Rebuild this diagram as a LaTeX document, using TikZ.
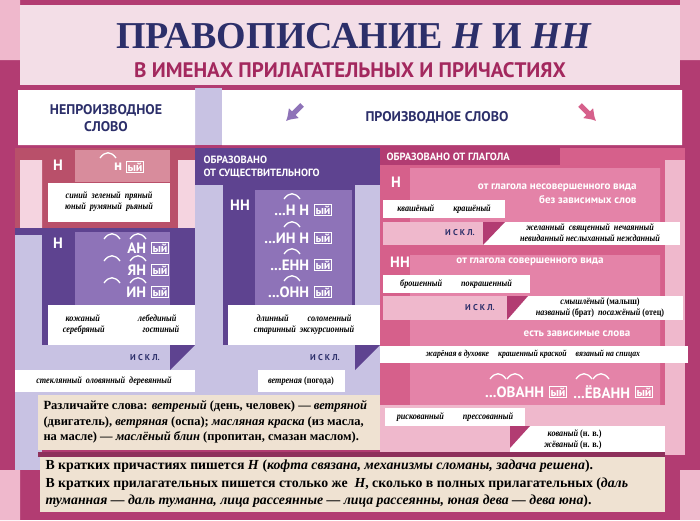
\documentclass[tikz,border=0pt]{standalone}
\usepackage{fontspec}
\usetikzlibrary{arrows.meta,positioning}
\setmainfont{Liberation Serif}
\setsansfont{PT Sans}
\newfontfamily\condserif[FakeStretch=0.86]{Liberation Serif}
\definecolor{frame}{HTML}{B23C72}
\definecolor{titlebg}{HTML}{F3DEE7}
\definecolor{navy}{HTML}{2C2F6A}
\definecolor{mag}{HTML}{A3285E}
\definecolor{redblk}{HTML}{B9506A}
\definecolor{redlt}{HTML}{D88C9C}
\definecolor{purpdk}{HTML}{5E4390}
\definecolor{purpmd}{HTML}{8E73B8}
\definecolor{lav}{HTML}{C8C2E3}
\definecolor{pink}{HTML}{D6608B}
\definecolor{pinklt}{HTML}{E483A8}
\definecolor{pinkpl}{HTML}{EFB8CC}
\definecolor{beige}{HTML}{EFE2D2}
\tikzset{
  hdr/.style={font=\sffamily\bfseries\fontsize{10.5}{13}\selectfont, text=white, align=left},
  big/.style={font=\sffamily\bfseries\fontsize{14}{17}\selectfont, text=navy, align=center},
  ex/.style={font=\condserif\bfseries\itshape\fontsize{9.5}{11}\selectfont, text=black, align=center},
  iskl/.style={font=\sffamily\bfseries\fontsize{8.5}{9}\selectfont, text=navy},
  suf/.style={font=\sffamily\bfseries\fontsize{15}{16}\selectfont, text=white},
  ending/.style={draw=white, line width=1.2pt, inner sep=1.2pt, font=\sffamily\bfseries\fontsize{12}{13}\selectfont, text=white},
  bignote/.style={font=\bfseries\fontsize{13.8}{17.5}\selectfont, align=left, anchor=west},
}
\newcommand{\arcover}[2]{\draw[white, line width=1.3pt] (#1-8,#2) .. controls (#1-3,#2-7) and (#1+3,#2-7) .. (#1+8,#2);}
\begin{document}
\begin{tikzpicture}[x=1pt,y=-1pt]
\useasboundingbox (0,0) rectangle (700,520);
\fill[frame] (0,0) rectangle (700,520);
\fill[pinkpl] (0,0) rectangle (20,60) (680,0) rectangle (700,60) (0,470) rectangle (20,520) (680,470) rectangle (700,520);
% title
\fill[titlebg] (20,5) rectangle (680,85);
\node (title) at (354,36) {\bfseries\fontsize{38}{40}\selectfont\color{navy}ПРАВОПИСАНИЕ \textit{Н} И \textit{НН}};
\node (subtitle) at (350,70) {\sffamily\bfseries\fontsize{21}{22}\selectfont\color{mag}В ИМЕНАХ ПРИЛАГАТЕЛЬНЫХ И ПРИЧАСТИЯХ};
% header row
\fill[lav] (195,88) rectangle (222,145);
\fill[white] (18,90) rectangle (195,145) (222,90) rectangle (682,145);
\node[big] (neproiz) at (106,118) {НЕПРОИЗВОДНОЕ\\СЛОВО};
\node[big] (proiz) at (437,117) {ПРОИЗВОДНОЕ СЛОВО};
\draw[purpmd, line width=5pt, -{Latex[length=11pt,width=15pt]}] (302,105) -- (286,121);
\draw[pink, line width=5pt, -{Latex[length=11pt,width=15pt]}] (580,105) -- (596,121);
% left column
\fill[redblk] (15,148) rectangle (195,228);
\fill[redlt] (75,150) rectangle (170,182);
\fill[pinkpl!60] (20,160) rectangle (42,228) (178,160) rectangle (195,228);
\node[suf] (nA) at (58,165) {Н};
\node[ending] (nyiA) at (135,167) {ый};
\node[suf, left=0pt of nyiA] {н};
\arcover{108}{158}
\fill[white] (48,183) rectangle (170,222);
\node[ex] (exA) at (109,202) {синий\ \ зеленый\ \ пряный\\юный\ \ румяный\ \ рьяный};
\fill[purpdk] (15,228) rectangle (195,345);
\fill[lav] (15,235) rectangle (42,470);
\fill[purpmd] (75,232) rectangle (170,305);
\node[suf] (nB) at (58,243) {Н};
\foreach \t/\y in {АН/248,ЯН/270,ИН/292}{
  \node[ending] (e\y) at (160,\y) {ый};
  \node[suf, left=1pt of e\y] {\t};
  \arcover{112}{\y-9}
  \arcover{138}{\y-9}
}
\fill[white] (48,305) rectangle (195,345);
\node[ex] (exB) at (121,325) {кожаный\qquad\qquad лебединый\\серебряный\qquad\qquad гостиный};
\fill[lav] (42,345) rectangle (195,395);
\fill[purpdk] (170,345) -- (195,345) -- (170,370) -- cycle;
\node[iskl] (isklA) at (145,358) {И С К Л.};
\fill[white] (15,370) rectangle (195,392);
\node[ex] (exC) at (104,381) {стеклянный\ \ оловянный\ \ деревянный};
% middle column
\fill[lav] (195,148) rectangle (380,395);
\fill[purpdk] (195,148) rectangle (380,185);
\node[hdr, anchor=west] (fromnoun) at (200,167) {ОБРАЗОВАНО\\ОТ СУЩЕСТВИТЕЛЬНОГО};
\fill[purpdk] (223,185) rectangle (355,345);
\fill[purpmd] (255,190) rectangle (352,305);
\node[suf] (nnB) at (240,205) {НН};
\foreach \t/\y in {{...Н Н}/210,{...ИН Н}/238,{...ЕНН}/265,{...ОНН}/292}{
  \node[ending] (m\y) at (323,\y) {ый};
  \node[suf, left=1pt of m\y] {\t};
  \arcover{292}{\y-11}
}
\fill[white] (228,305) rectangle (380,345);
\node[ex] (exD) at (304,325) {длинный\qquad соломенный\\старинный\ \ экскурсионный};
\fill[purpdk] (355,345) -- (380,345) -- (355,370) -- cycle;
\node[iskl] (isklB) at (325,358) {И С К Л.};
\fill[white] (258,370) rectangle (345,392);
\node[ex] (exE) at (301,381) {ветреная \textup{(погода)}};
% right column
\fill[pink] (380,148) rectangle (685,455);
\fill[frame] (380,148) rectangle (560,165);
\node[hdr, anchor=west] (fromverb) at (383,157) {ОБРАЗОВАНО ОТ ГЛАГОЛА};
\fill[pinklt] (410,168) rectangle (660,225) (410,255) rectangle (660,455);
\fill[pinkpl] (665,160) rectangle (685,455);
\node[suf] (nC) at (396,182) {Н};
\node[hdr, font=\sffamily\bfseries\fontsize{11}{14}\selectfont, align=right, anchor=east] (imperf) at (640,194) {от глагола несовершенного вида\\без зависимых слов};
\fill[white] (383,200) rectangle (505,218);
\node[ex] (exF) at (444,209) {квашёный\qquad крашёный};
\fill[pinkpl] (383,222) rectangle (485,245);
\node[iskl] (isklC) at (460,233) {И С К Л.};
\fill[white] (483,222) rectangle (680,245);
\fill[frame] (483,222) -- (505,222) -- (483,245) -- cycle;
\node[ex] (exG) at (590,233) {желанный\ \ священный\ \ нечаянный\\невиданный\ неслыханный\ нежданный};
\node[suf] (nnC) at (400,262) {НН};
\node[hdr, font=\sffamily\bfseries\fontsize{11}{14}\selectfont] (perf) at (530,262) {от глагола совершенного вида};
\fill[white] (383,275) rectangle (530,293);
\node[ex] (exH) at (456,284) {брошенный\qquad покрашенный};
\fill[pinkpl] (383,296) rectangle (510,320);
\node[iskl] (isklD) at (480,308) {И С К Л.};
\fill[white] (507,296) rectangle (683,320);
\fill[frame] (507,296) -- (528,296) -- (507,320) -- cycle;
\node[ex] (exI) at (600,308) {смышлёный \textup{(малыш)}\\названый \textup{(брат)}\ \ посажёный \textup{(отец)}};
\node[hdr, font=\sffamily\bfseries\fontsize{11}{14}\selectfont] (depend) at (577,334) {есть зависимые слова};
\fill[white] (380,346) rectangle (688,363);
\node[ex, font=\condserif\bfseries\itshape\fontsize{9}{10}\selectfont] (exJ) at (533,354) {жарёная в духовке\quad крашенный краской\quad вязаный на спицах};
\node[ending] (o1) at (558,392) {ый};
\node[suf, left=1pt of o1] {...ОВАНН};
\node[ending] (o2) at (644,392) {ый};
\node[suf, left=1pt of o2] {...ЁВАНН};
\arcover{498}{379} \arcover{515}{379} \arcover{584}{379} \arcover{601}{379}
\fill[pinkpl] (380,405) rectangle (665,455);
\fill[white] (385,408) rectangle (525,426);
\node[ex] (exK) at (455,417) {рискованный\qquad прессованный};
\fill[white] (510,426) rectangle (665,455);
\fill[frame] (510,426) -- (530,426) -- (510,448) -- cycle;
\node[ex, align=right, anchor=east] (exL) at (605,440) {кованый \textup{(н. в.)}\\жёваный \textup{(н. в.)}};
% bottom notes
\fill[beige] (38,395) rectangle (380,450);
\node[bignote, font=\bfseries\fontsize{12.5}{15.5}\selectfont] (note) at (40,422) {Различайте слова: \textit{ветреный} (день, человек) — \textit{ветряной}\\(двигатель), \textit{ветряная} (оспа); \textit{масляная краска} (из масла,\\на масле) — \textit{маслёный блин} (пропитан, смазан маслом).};
\node[font=\sffamily\bfseries\fontsize{40}{40}\selectfont, text=lav] (excl) at (26,443) {!};
\fill[frame!80!black] (38,452) rectangle (665,457);
\fill[beige] (40,457) rectangle (665,512);
\node[bignote] (rule) at (42,484) {В кратких причастиях пишется \textit{Н} (\textit{кофта связана, механизмы сломаны, задача решена}).\\В кратких прилагательных пишется столько же \ \textit{Н}, сколько в полных прилагательных (\textit{даль}\\\textit{туманная — даль туманна, лица рассеянные — лица рассеянны, юная дева — дева юна}).};
\end{tikzpicture}
\end{document}
